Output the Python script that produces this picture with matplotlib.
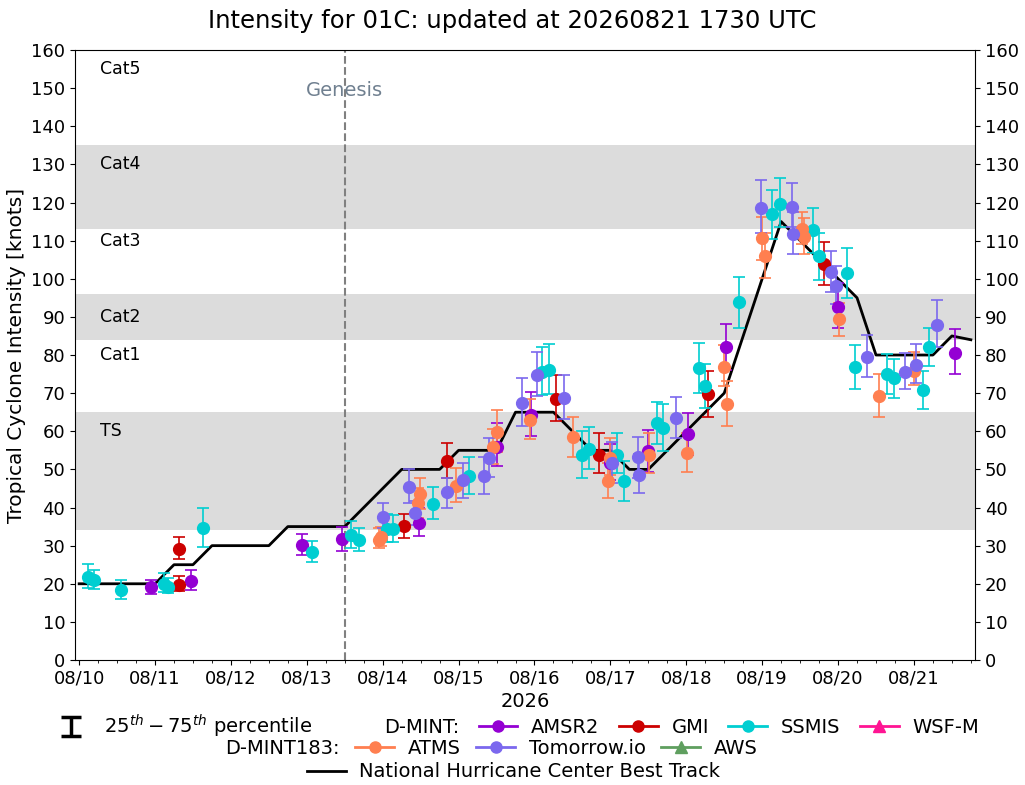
import matplotlib
matplotlib.use("Agg")
import matplotlib.pyplot as plt
import matplotlib.dates as mdates
import numpy as np
import pandas as pd
from matplotlib.lines import Line2D
from matplotlib.container import ErrorbarContainer
from matplotlib.collections import LineCollection

YEAR = "2026"

# NHC best track (time, knots)
bt_time = ["08/10 00:00", "08/10 06:00", "08/10 12:00", "08/10 18:00",
           "08/11 00:00", "08/11 06:00", "08/11 12:00", "08/11 18:00",
           "08/12 00:00", "08/12 06:00", "08/12 12:00", "08/12 18:00",
           "08/13 00:00", "08/13 06:00", "08/13 12:00", "08/13 18:00",
           "08/14 00:00", "08/14 06:00", "08/14 12:00", "08/14 18:00",
           "08/15 00:00", "08/15 06:00", "08/15 12:00", "08/15 18:00",
           "08/16 00:00", "08/16 06:00", "08/16 12:00", "08/16 18:00",
           "08/17 00:00", "08/17 06:00", "08/17 12:00", "08/17 18:00",
           "08/18 00:00", "08/18 06:00", "08/18 12:00", "08/18 18:00",
           "08/19 00:00", "08/19 06:00", "08/19 12:00", "08/19 18:00",
           "08/20 00:00", "08/20 06:00", "08/20 12:00", "08/20 18:00",
           "08/21 00:00", "08/21 06:00", "08/21 12:00", "08/21 18:00"]
bt_vmax = [20, 20, 20, 20, 20, 25, 25, 30, 30, 30, 30, 35, 35, 35, 35, 40,
           45, 50, 50, 50, 55, 55, 55, 65, 65, 65, 60, 55, 55, 50, 50, 55,
           60, 65, 70, 85, 100, 115, 110, 105, 100, 95, 80, 80, 80, 80, 85, 84]

genesis_time = "08/13 12:00"

# D-MINT: AMSR2
amsr2_time = ["08/10 22:50", "08/11 11:17", "08/12 22:34", "08/13 11:02", "08/14 11:31",
              "08/15 12:14", "08/15 23:02", "08/16 23:46", "08/17 11:46", "08/18 00:29",
              "08/18 12:29", "08/20 00:05", "08/21 13:00"]
amsr2_vmax = [19.1, 20.7, 30.2, 31.7, 35.9, 56.0, 64.3, 51.7, 54.7, 59.2, 82.0, 92.7, 80.6]
amsr2_p75 = [21.0, 23.6, 33.0, 35.0, 39.8, 62.3, 70.2, 56.7, 60.3, 64.9, 88.1, 98.8, 86.7]
amsr2_p25 = [17.3, 18.4, 27.5, 28.6, 32.5, 50.8, 58.7, 47.2, 49.4, 53.8, 76.1, 87.0, 75.0]

# D-MINT: GMI
gmi_time = ["08/11 07:40", "08/11 07:44", "08/14 06:52", "08/14 20:16", "08/16 06:50",
            "08/16 20:31", "08/18 06:59", "08/19 19:40"]
gmi_vmax = [19.8, 29.0, 35.1, 52.2, 68.4, 53.9, 69.8, 104.0]
gmi_p75 = [22.1, 32.2, 38.3, 56.8, 74.8, 59.5, 75.9, 109.6]
gmi_p25 = [18.1, 26.4, 31.9, 47.8, 62.7, 49.0, 63.7, 98.4]

# D-MINT: SSMIS
ssmis_time = ["08/10 02:57", "08/10 04:50", "08/10 13:17", "08/11 02:53", "08/11 04:14",
              "08/11 15:18", "08/13 01:35", "08/13 14:01", "08/13 16:32", "08/14 01:18",
              "08/14 03:23", "08/14 16:02", "08/15 03:25", "08/16 02:30", "08/16 04:42",
              "08/16 14:57", "08/16 17:15", "08/17 02:13", "08/17 04:25", "08/17 14:40",
              "08/17 16:45", "08/18 04:09", "08/18 05:57", "08/18 16:48", "08/19 03:13",
              "08/19 05:40", "08/19 16:00", "08/19 18:00", "08/20 02:57", "08/20 05:23",
              "08/20 15:35", "08/20 17:48", "08/21 02:47", "08/21 04:52"]
ssmis_vmax = [21.9, 21.0, 18.4, 19.9, 19.2, 34.5, 28.3, 32.8, 31.5, 34.4,
              34.4, 40.9, 48.3, 75.6, 76.1, 53.8, 55.3, 53.9, 47.0, 62.1,
              60.8, 76.5, 71.9, 93.8, 117.0, 119.6, 112.8, 106.0, 101.4, 76.8,
              75.0, 73.9, 70.8, 82.0]
ssmis_p75 = [25.1, 23.6, 21.0, 22.9, 21.6, 39.8, 31.2, 36.5, 34.7, 38.3,
             38.0, 45.5, 53.3, 82.2, 82.8, 60.1, 61.0, 59.5, 52.3, 67.8,
             67.1, 83.1, 77.6, 100.4, 123.3, 126.3, 118.5, 111.9, 108.0, 82.6,
             80.3, 78.9, 75.9, 87.0]
ssmis_p25 = [19.0, 18.5, 15.9, 17.9, 17.7, 29.7, 25.6, 29.3, 28.6, 31.0,
             31.0, 36.9, 43.5, 69.5, 69.8, 47.7, 50.0, 49.0, 41.8, 56.7,
             54.8, 70.1, 66.0, 87.0, 110.3, 113.7, 106.7, 99.7, 94.9, 71.0,
             69.7, 68.6, 65.8, 77.1]

# D-MINT183: ATMS
atms_time = ["08/13 22:52", "08/13 23:29", "08/14 11:02", "08/14 11:50", "08/14 23:02",
             "08/15 11:01", "08/15 12:10", "08/15 22:42", "08/16 12:03", "08/16 23:07",
             "08/16 23:54", "08/17 12:14", "08/18 00:20", "08/18 11:57", "08/18 12:59",
             "08/19 00:04", "08/19 00:55", "08/19 12:31", "08/19 13:15", "08/20 00:25",
             "08/20 13:03", "08/21 00:01"]
atms_vmax = [31.5, 32.3, 41.1, 43.5, 45.6, 55.9, 59.8, 62.9, 58.4, 46.9,
             52.9, 53.9, 54.4, 76.9, 67.1, 110.6, 106.0, 113.0, 110.9, 89.4,
             69.2, 75.9]
atms_p75 = [34.5, 35.0, 45.0, 47.7, 50.3, 60.5, 65.5, 68.4, 63.7, 51.8,
            58.2, 59.5, 59.5, 82.5, 73.3, 116.3, 111.9, 117.6, 115.9, 93.7,
            75.0, 80.9]
atms_p25 = [29.3, 30.0, 37.2, 39.5, 41.4, 51.5, 54.5, 58.0, 53.3, 42.4,
            48.5, 49.0, 49.2, 72.0, 61.4, 104.9, 100.1, 109.1, 106.5, 85.0,
            63.7, 72.1]

# D-MINT183: Tomorrow.io
tio_time = ["08/14 00:13", "08/14 08:27", "08/14 10:15", "08/14 20:21", "08/15 01:31",
            "08/15 08:09", "08/15 09:45", "08/15 19:55", "08/16 00:55", "08/16 09:21",
            "08/17 00:26", "08/17 08:40", "08/17 08:55", "08/17 20:47", "08/18 23:38",
            "08/19 09:33", "08/19 09:52", "08/19 21:41", "08/19 23:22", "08/20 09:16",
            "08/20 21:11", "08/21 00:40", "08/21 07:24"]
tio_vmax = [37.5, 45.4, 38.6, 44.0, 47.1, 48.3, 52.9, 67.4, 74.8, 68.8,
            51.6, 53.2, 48.5, 63.4, 118.5, 118.9, 111.7, 101.7, 98.1, 79.4,
            75.5, 77.4, 88.0]
tio_p75 = [41.1, 50.0, 41.8, 47.7, 51.8, 53.2, 58.3, 73.9, 80.9, 74.8,
           57.3, 58.6, 54.0, 68.9, 125.9, 125.0, 117.4, 107.3, 103.4, 85.2,
           80.6, 82.8, 94.4]
tio_p25 = [34.5, 41.1, 35.5, 39.8, 42.4, 43.5, 47.9, 61.4, 69.2, 63.1,
           46.5, 47.7, 43.7, 58.2, 111.9, 113.7, 106.5, 96.6, 93.3, 74.3,
           71.0, 72.6, 82.2]

# shaded category bands (knots)
band_lo = [34, 84, 113]
band_hi = [65, 96, 135]
cat_names = ["TS", "Cat1", "Cat2", "Cat3", "Cat4", "Cat5"]
cat_label_y = [60, 80, 90, 110, 130, 155]


def to_dt(strs):
    return pd.to_datetime([YEAR + "/" + s for s in strs], format="%Y/%m/%d %H:%M")


fig = plt.figure(figsize=(10.25, 7.85), dpi=100)
ax = fig.add_axes([0.0732, 0.1592, 0.878, 0.7771])

for lo, hi in zip(band_lo, band_hi):
    ax.axhspan(lo, hi, color="gainsboro", zorder=0, lw=0)

for name, yy in zip(cat_names, cat_label_y):
    ax.text(0.028, yy, name, transform=ax.get_yaxis_transform(), fontsize=12.5,
            va="center", ha="left")

bt_t = to_dt(bt_time)
ax.plot(bt_t, bt_vmax, color="k", lw=2, zorder=3)

gen_t = to_dt([genesis_time])[0]
ax.axvline(gen_t, color="gray", ls="--", lw=1.5, zorder=2)
ax.text(gen_t, 149.5, "Genesis", color="slategray", fontsize=14, ha="center", va="center")

sensors = [
    (amsr2_time, amsr2_vmax, amsr2_p25, amsr2_p75, "darkviolet"),
    (gmi_time, gmi_vmax, gmi_p25, gmi_p75, "#cc0000"),
    (ssmis_time, ssmis_vmax, ssmis_p25, ssmis_p75, "darkturquoise"),
    (atms_time, atms_vmax, atms_p25, atms_p75, "coral"),
    (tio_time, tio_vmax, tio_p25, tio_p75, "mediumslateblue"),
]
for tt, vv, p25, p75, col in sensors:
    vv = np.array(vv)
    yerr = [vv - np.array(p25), np.array(p75) - vv]
    ax.errorbar(to_dt(tt), vv, yerr=yerr, fmt="o", color=col, ms=8.5,
                elinewidth=1.2, capsize=4, capthick=1.2, zorder=4)

pad = pd.Timedelta(hours=1.3)
ax.set_xlim(bt_t[0] - pad, bt_t[-1] + pad)
ax.set_ylim(0, 160)
ax.set_yticks(np.arange(0, 161, 10))
ax.xaxis.set_major_locator(mdates.DayLocator())
ax.xaxis.set_minor_locator(mdates.HourLocator(byhour=[6, 12, 18]))
ax.xaxis.set_major_formatter(mdates.DateFormatter("%m/%d"))
ax.tick_params(axis="both", labelsize=13)
ax.tick_params(axis="y", right=True, labelright=True)
ax.set_xlabel(YEAR, fontsize=14, labelpad=3)
ax.set_ylabel("Tropical Cyclone Intensity [knots]", fontsize=14.5)
fig.suptitle("Intensity for 01C: updated at 20260821 1730 UTC", fontsize=17.5, y=0.988)

# legend rows
cap = Line2D([], [], color="k", marker="_", ms=15, mew=2.5, ls="none")
bar = LineCollection([], colors="k", linewidths=2.5)
pct = ErrorbarContainer((None, (cap, cap), (bar,)), has_xerr=False, has_yerr=True)
blank = Line2D([], [], color="none")


def mk(col, marker="o"):
    return Line2D([], [], color=col, marker=marker, ms=8, lw=2)


leg_kw = dict(loc="center", frameon=False, fontsize=14,
              handlelength=2.0, handletextpad=0.7, borderpad=0, borderaxespad=0)
fig.legend([pct, blank, mk("darkviolet"), mk("#cc0000"), mk("darkturquoise"), mk("deeppink", "^")],
           ["$25^{th}-75^{th}$ percentile", "D-MINT:", "AMSR2", "GMI", "SSMIS", "WSF-M"],
           ncol=6, columnspacing=1.0, bbox_to_anchor=(0.5026, 0.0752), **leg_kw)
fig.legend([blank, mk("coral"), mk("mediumslateblue"), mk("#5f9f5f", "^")],
           ["D-MINT183:", "ATMS", "Tomorrow.io", "AWS"],
           ncol=4, columnspacing=0.8, bbox_to_anchor=(0.454, 0.0471), **leg_kw)
fig.legend([Line2D([], [], color="k", lw=2)], ["National Hurricane Center Best Track"],
           bbox_to_anchor=(0.501, 0.0166), **leg_kw)

fig.savefig("out.png", dpi=100)
